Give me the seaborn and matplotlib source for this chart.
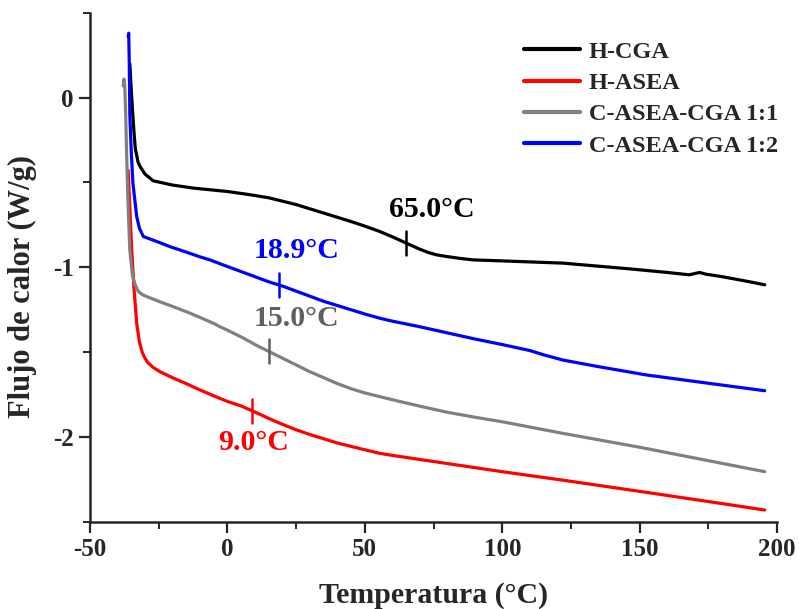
import matplotlib
matplotlib.use("Agg")
import matplotlib.pyplot as plt
from matplotlib.ticker import MultipleLocator
import numpy as np
import pandas as pd
import seaborn as sns

# DSC thermograms: heat flow vs temperature
hcga_t = [-35.5, -35.0, -34.5, -34.0, -33.5, -32.5, -31.8, -30.0, -27.0, -20, -12.4, 0, 8.2, 15,
          20, 25, 30, 35, 40, 45, 50, 55.5, 60, 66.4, 70, 73, 76, 79.7, 85, 89.4, 100, 122, 146.4,
          160, 168, 171.8, 174, 180, 190, 195.5]
hcga_q = [0.20, 0.05, -0.08, -0.20, -0.30, -0.38, -0.405, -0.45, -0.49, -0.515, -0.533, -0.553,
          -0.572, -0.59, -0.61, -0.63, -0.655, -0.68, -0.705, -0.73, -0.757, -0.789, -0.82,
          -0.867, -0.893, -0.912, -0.926, -0.936, -0.948, -0.956, -0.962, -0.975, -1.009, -1.03,
          -1.044, -1.03, -1.04, -1.055, -1.085, -1.103]

hasea_t = [-36.1, -35.5, -34.8, -34.0, -33.0, -32.0, -31.0, -30.0, -29.0, -27.0, -24.5, -20, -15,
           -11, -5, 0, 5, 9, 15, 20, 25, 30, 35, 40, 45, 50, 55.5, 60, 70, 80, 100, 122, 150, 175,
           195.5]
hasea_q = [-0.43, -0.65, -0.90, -1.12, -1.33, -1.44, -1.50, -1.535, -1.56, -1.59, -1.615, -1.65,
           -1.685, -1.715, -1.757, -1.79, -1.817, -1.845, -1.89, -1.925, -1.957, -1.985, -2.01,
           -2.035, -2.055, -2.075, -2.096, -2.108, -2.132, -2.156, -2.204, -2.254, -2.32, -2.38,
           -2.43]

c11_t = [-37.9, -37.6, -37.3, -37.0, -36.7, -36.2, -35.5, -34.5, -33.6, -32.5, -31.0, -29.4, -25,
         -20, -13.6, -10, -5, -2.7, 0, 5, 8.2, 10, 15, 20, 25, 30, 35, 40, 45, 50, 55.5, 60, 70,
         79.7, 90, 100, 122, 150, 164.5, 180, 195.5]
c11_q = [0.07, 0.11, 0.05, -0.10, -0.31, -0.60, -0.90, -1.05, -1.10, -1.14, -1.16, -1.172, -1.20,
         -1.23, -1.27, -1.295, -1.33, -1.35, -1.37, -1.41, -1.438, -1.455, -1.495, -1.535,
         -1.575, -1.615, -1.65, -1.685, -1.715, -1.74, -1.762, -1.78, -1.818, -1.853, -1.883,
         -1.91, -1.978, -2.06, -2.106, -2.155, -2.204]

c12_t = [-36.1, -35.9, -35.7, -35.5, -35.0, -34.4, -33.0, -32.0, -30.6, -25, -20.9, -15, -10,
         -6.4, 0, 5, 8.2, 15, 20, 25, 30, 35, 40, 45, 50, 55.5, 60, 70, 79.7, 90, 100, 110, 115,
         122, 135, 152.4, 175, 195.5]
c12_q = [0.36, 0.38, 0.20, -0.10, -0.31, -0.50, -0.70, -0.77, -0.818, -0.852, -0.878, -0.910,
         -0.938, -0.956, -0.995, -1.025, -1.044, -1.085, -1.11, -1.14, -1.17, -1.20, -1.225,
         -1.25, -1.275, -1.30, -1.317, -1.35, -1.385, -1.422, -1.455, -1.49, -1.515, -1.546,
         -1.585, -1.634, -1.683, -1.727]

series_names = ["H-CGA", "H-ASEA", "C-ASEA-CGA 1:1", "C-ASEA-CGA 1:2"]
series_colors = ["#000000", "#ff0000", "#808080", "#0000ff"]

# Glass transition temperatures and their label colours
tg_values = [65.0, 9.0, 15.0, 18.9]
tg_text_colors = ["#000000", "#ff0000", "#5f5f5f", "#0000ff"]
tg_text_xy = [(74.4, -0.66), (9.6, -2.03), (25.0, -1.30), (25.0, -0.90)]

frames = []
for name, t, q in zip(series_names, [hcga_t, hasea_t, c11_t, c12_t],
                      [hcga_q, hasea_q, c11_q, c12_q]):
    frames.append(pd.DataFrame({"T": t, "Q": q, "Muestra": name}))
df = pd.concat(frames, ignore_index=True)

sns.set_style("ticks")
plt.rcParams["font.family"] = ["Liberation Serif", "DejaVu Serif"]
plt.rcParams["font.weight"] = "bold"
plt.rcParams["axes.unicode_minus"] = False

fig = plt.figure(figsize=(7.99, 6.09), dpi=100)
ax = fig.add_axes([0.1126, 0.143, 0.86, 0.836])

sns.lineplot(data=df, x="T", y="Q", hue="Muestra", hue_order=series_names,
             palette=dict(zip(series_names, series_colors)), sort=False,
             estimator=None, linewidth=2.3, ax=ax)

# Tg markers: short vertical bars on each curve at the stated temperature
curves = [(hcga_t, hcga_q), (hasea_t, hasea_q), (c11_t, c11_q), (c12_t, c12_q)]
for (t, q), tg, col, (tx, ty) in zip(curves, tg_values, tg_text_colors, tg_text_xy):
    yv = np.interp(tg, t, q)
    ax.plot([tg, tg], [yv - 0.07, yv + 0.07], color=col, linewidth=1.8)
    ax.text(tx, ty, f"{tg:.1f}°C", color=col, fontsize=21.5, fontweight="bold",
            ha="center", va="center")

ax.set_xlim(-50, 200)
ax.set_ylim(-2.5, 0.5)
ax.xaxis.set_major_locator(MultipleLocator(50))
ax.xaxis.set_minor_locator(MultipleLocator(25))
ax.yaxis.set_major_locator(MultipleLocator(1))
ax.yaxis.set_minor_locator(MultipleLocator(0.5))
ax.tick_params(which="major", length=8, width=1.6, labelsize=18, direction="out")
ax.tick_params(which="minor", length=5, width=1.4, direction="out")
for lbl in ax.get_xticklabels() + ax.get_yticklabels():
    lbl.set_fontweight("bold")

sns.despine(ax=ax)
for s in ["left", "bottom"]:
    ax.spines[s].set_linewidth(1.8)

ax.set_xlabel("Temperatura (°C)", fontsize=21.5, fontweight="bold", labelpad=15)
ax.set_ylabel("Flujo de calor (W/g)", fontsize=22, fontweight="bold")
ax.yaxis.set_label_coords(-0.077, 0.462)

leg = ax.legend(loc="upper right", bbox_to_anchor=(1.033, 0.988), frameon=False,
                fontsize=17.5, handlelength=2.3, handletextpad=0.35, labelspacing=0.38)
for h in leg.get_lines():
    h.set_linewidth(3)
for txt in leg.get_texts():
    txt.set_fontweight("bold")

fig.savefig("out.png", dpi=100)
